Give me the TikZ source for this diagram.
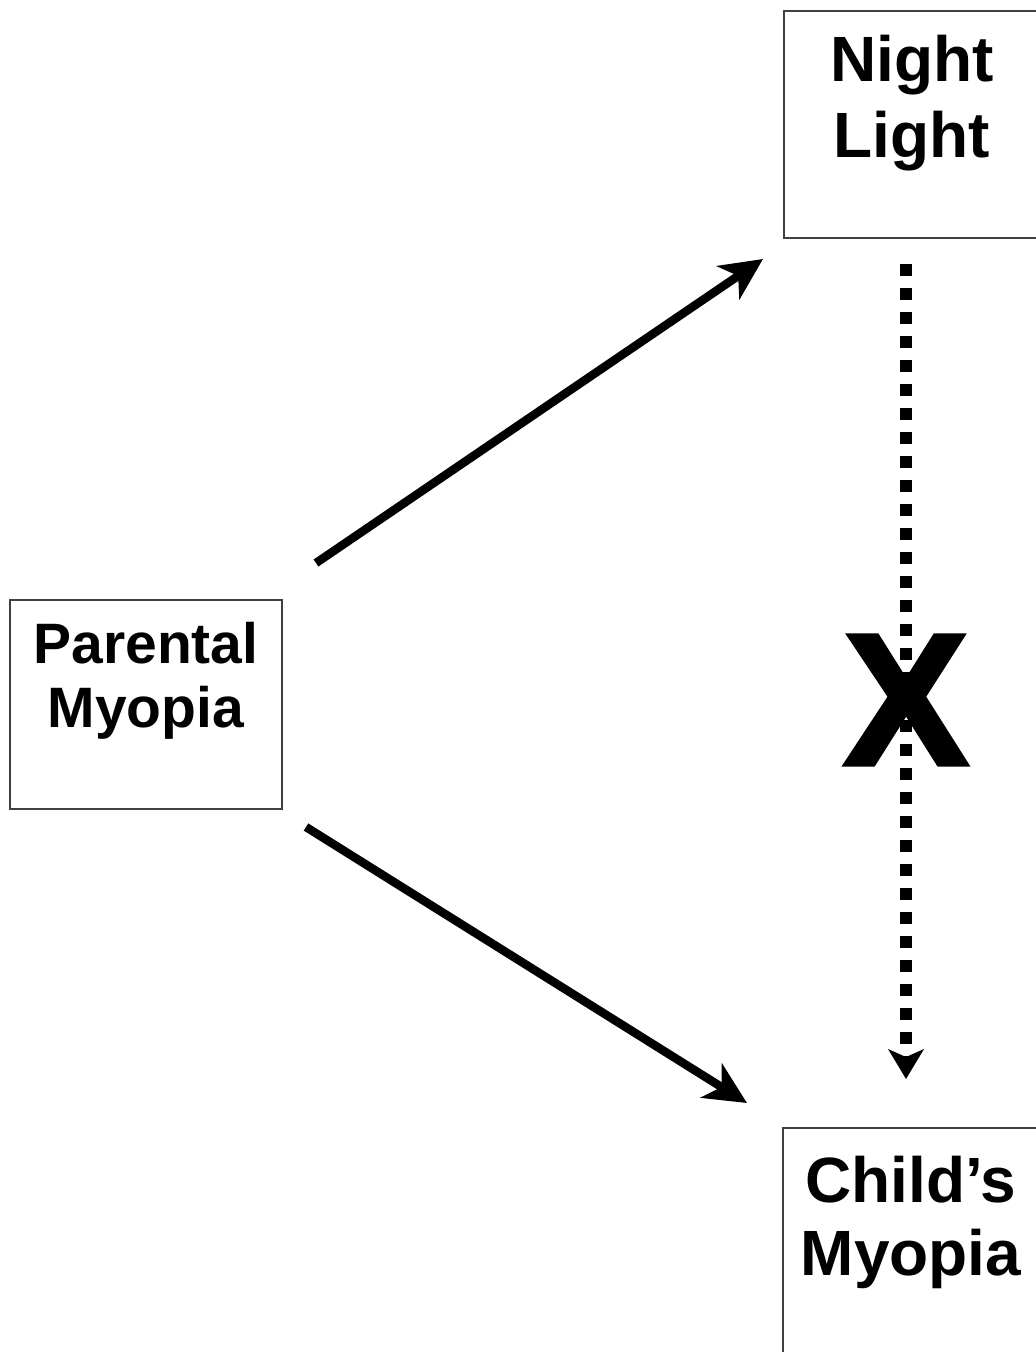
\documentclass[tikz,border=0pt]{standalone}
\usepackage{fontspec}
\setmainfont{Liberation Sans}
\newfontfamily\crossfont[FakeBold=2]{Liberation Sans Bold}
\usetikzlibrary{arrows.meta}
\begin{document}
\begin{tikzpicture}[x=1pt,y=-1pt,
  box/.style={draw=black!75, line width=1.6pt, fill=white, inner sep=0pt, anchor=north west},
  boxtext/.style={font=\bfseries, align=center, inner sep=0pt, anchor=base},
  causal/.style={line width=8.5pt, -{Stealth[length=42pt,width=40pt,inset=12pt]}},
  dotted link/.style={line width=12pt, dash pattern=on 12pt off 12pt,
    -{Stealth[length=30pt,width=36pt,inset=8pt,line width=0pt]}}]
  \useasboundingbox (0,0) rectangle (1036,1352);
  \begin{scope}
    \clip (0,0) rectangle (1036,1352);
    % boxes
    \node[box, minimum width=272pt, minimum height=209pt] (pm) at (9,599) {};
    \node[box, minimum width=258pt, minimum height=227pt] (nl) at (783,10) {};
    \node[box, minimum width=258pt, minimum height=240pt] (cm) at (782,1127) {};
  \end{scope}
  % box labels
  \node[boxtext, font=\bfseries\fontsize{57}{64}\selectfont] (pm-t1) at (146,663) {Parental};
  \node[boxtext, font=\bfseries\fontsize{57}{64}\selectfont] (pm-t2) at (146,727) {Myopia};
  \node[boxtext, font=\bfseries\fontsize{64}{76}\selectfont] (nl-t1) at (912,81) {Night};
  \node[boxtext, font=\bfseries\fontsize{64}{76}\selectfont] (nl-t2) at (912,157) {Light};
  \node[boxtext, font=\bfseries\fontsize{64}{73}\selectfont] (cm-t1) at (911,1202) {Child’s};
  \node[boxtext, font=\bfseries\fontsize{64}{73}\selectfont] (cm-t2) at (911,1275) {Myopia};
  % connector end points
  \coordinate (pm-up) at (316,563);
  \coordinate (nl-in) at (763,259);
  \coordinate (pm-down) at (306,827);
  \coordinate (cm-in) at (747,1103);
  \coordinate (nl-out) at (906,264);
  \coordinate (cm-top) at (906,1079);
  % causal arrows
  \draw[causal] (pm-up) -- (nl-in);
  \draw[causal] (pm-down) -- (cm-in);
  \draw[dotted link] (nl-out) -- (cm-top);
  % blocked path mark
  \node[font=\crossfont\fontsize{188}{188}\selectfont, inner sep=0pt] (block) at (906,700) {X};
\end{tikzpicture}
\end{document}
